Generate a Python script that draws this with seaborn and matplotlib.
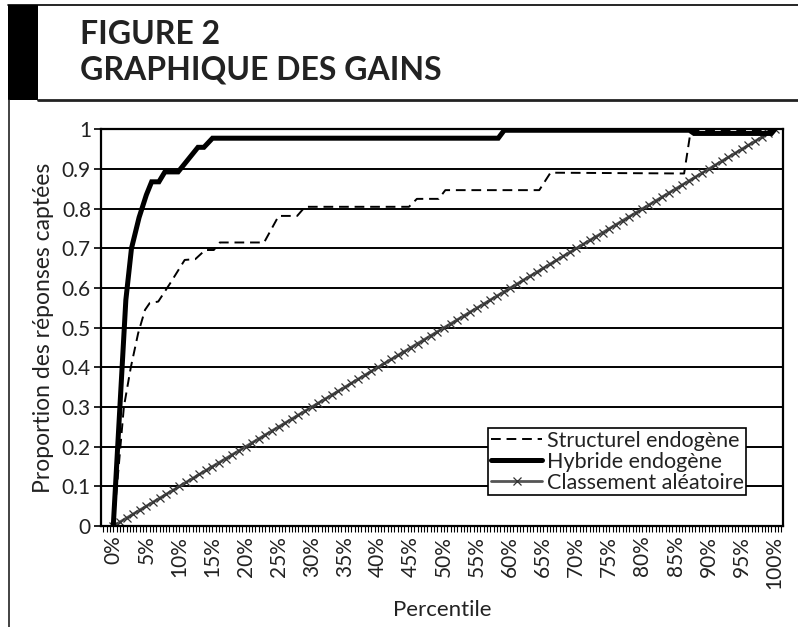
import matplotlib
matplotlib.use("Agg")
import matplotlib.pyplot as plt
import pandas as pd
import seaborn as sns
from matplotlib.lines import Line2D
from matplotlib.patches import Rectangle
from matplotlib.ticker import MultipleLocator

# Data (percentile -> proportion of responses captured)
struct_pct = [0, 0.6, 1.6, 2.65, 3.76, 4.8, 5.5, 6.8, 8.6, 10.8, 12.4, 13.9, 15.2, 16.1,
              22.8, 25.0, 27.8, 29.0, 44.7, 45.9, 49.2, 50.2, 64.4, 66.1, 86.3, 87.3, 100]
struct_val = [0, 0.108, 0.30, 0.40, 0.486, 0.545, 0.562, 0.566, 0.612, 0.671, 0.673, 0.696, 0.696, 0.715,
              0.715, 0.782, 0.782, 0.805, 0.805, 0.825, 0.825, 0.847, 0.847, 0.891, 0.889, 0.997, 0.997]

hybrid_pct = [0, 1.9, 2.75, 3.9, 5.0, 5.8, 6.9, 7.8, 9.8, 12.8, 13.7, 15.0,
              58.2, 59.1, 87.1, 87.8, 99.5, 100]
hybrid_val = [0, 0.57, 0.70, 0.778, 0.835, 0.868, 0.868, 0.893, 0.893, 0.955, 0.955, 0.978,
              0.978, 0.998, 0.998, 0.99, 0.99, 1.0]

random_pct = [0, 1, 2, 3, 4, 5, 6, 7, 8, 9, 10, 11, 12, 13, 14, 15, 16, 17, 18, 19, 20,
              21, 22, 23, 24, 25, 26, 27, 28, 29, 30, 31, 32, 33, 34, 35, 36, 37, 38, 39, 40,
              41, 42, 43, 44, 45, 46, 47, 48, 49, 50, 51, 52, 53, 54, 55, 56, 57, 58, 59, 60,
              61, 62, 63, 64, 65, 66, 67, 68, 69, 70, 71, 72, 73, 74, 75, 76, 77, 78, 79, 80,
              81, 82, 83, 84, 85, 86, 87, 88, 89, 90, 91, 92, 93, 94, 95, 96, 97, 98, 99, 100]
random_val = [0.00, 0.01, 0.02, 0.03, 0.04, 0.05, 0.06, 0.07, 0.08, 0.09, 0.10,
              0.11, 0.12, 0.13, 0.14, 0.15, 0.16, 0.17, 0.18, 0.19, 0.20,
              0.21, 0.22, 0.23, 0.24, 0.25, 0.26, 0.27, 0.28, 0.29, 0.30,
              0.31, 0.32, 0.33, 0.34, 0.35, 0.36, 0.37, 0.38, 0.39, 0.40,
              0.41, 0.42, 0.43, 0.44, 0.45, 0.46, 0.47, 0.48, 0.49, 0.50,
              0.51, 0.52, 0.53, 0.54, 0.55, 0.56, 0.57, 0.58, 0.59, 0.60,
              0.61, 0.62, 0.63, 0.64, 0.65, 0.66, 0.67, 0.68, 0.69, 0.70,
              0.71, 0.72, 0.73, 0.74, 0.75, 0.76, 0.77, 0.78, 0.79, 0.80,
              0.81, 0.82, 0.83, 0.84, 0.85, 0.86, 0.87, 0.88, 0.89, 0.90,
              0.91, 0.92, 0.93, 0.94, 0.95, 0.96, 0.97, 0.98, 0.99, 1.00]

x_ticks = [0, 5, 10, 15, 20, 25, 30, 35, 40, 45, 50, 55, 60, 65, 70, 75, 80, 85, 90, 95, 100]
x_labels = [f"{t}%" for t in x_ticks]
y_ticks = [0, 0.1, 0.2, 0.3, 0.4, 0.5, 0.6, 0.7, 0.8, 0.9, 1.0]
y_labels = ["0", "0.1", "0.2", "0.3", "0.4", "0.5", "0.6", "0.7", "0.8", "0.9", "1"]

df_struct = pd.DataFrame({"pct": struct_pct, "val": struct_val})
df_hybrid = pd.DataFrame({"pct": hybrid_pct, "val": hybrid_val})
df_random = pd.DataFrame({"pct": random_pct, "val": random_val})

sns.set_style("white")
plt.rcParams['font.family'] = ['Lato', 'DejaVu Sans']
txt = '#222222'

fig = plt.figure(figsize=(7.98, 6.27), dpi=100)
ax = fig.add_axes([0.1262, 0.1611, 0.855, 0.6324])

# gridlines
ax.yaxis.grid(True, color='black', lw=1.4, zorder=0)
ax.set_axisbelow(True)

sns.lineplot(data=df_struct, x="pct", y="val", ax=ax, sort=False, estimator=None,
             color='black', lw=1.4, linestyle=(0, (5, 3)), label='Structurel endogène', zorder=4)
sns.lineplot(data=df_hybrid, x="pct", y="val", ax=ax, sort=False, estimator=None,
             color='black', lw=3.6, label='Hybride endogène', zorder=3,
             solid_joinstyle='miter')
sns.lineplot(data=df_random, x="pct", y="val", ax=ax, sort=False, estimator=None,
             color='#555555', lw=2.0, marker='x', markersize=6, markeredgewidth=0.9,
             markeredgecolor='#333333', label='Classement aléatoire', zorder=2)

ax.set_xlim(-1.9, 101.25)
ax.set_ylim(0, 1)
ax.set_xticks(x_ticks)
ax.set_xticklabels(x_labels, rotation=90, fontsize=15, color=txt)
ax.xaxis.set_minor_locator(MultipleLocator(0.5))
ax.set_yticks(y_ticks)
ax.set_yticklabels(y_labels, fontsize=15, color=txt)
ax.tick_params(axis='x', which='both', direction='out', length=4, width=0.8, color='black', bottom=True)
ax.tick_params(axis='y', which='major', direction='out', length=5, width=1.2, color='black', left=True, pad=2)
ax.tick_params(axis='x', which='major', pad=3)

for s in ax.spines.values():
    s.set_color('black')
    s.set_linewidth(1.6)

ax.set_xlabel("Percentile", fontsize=16, color=txt, labelpad=8)
ax.set_ylabel("Proportion des réponses captées", fontsize=16.5, color=txt, labelpad=6)

leg = ax.legend(loc='upper left', bbox_to_anchor=(0.568, 0.247), frameon=True, fancybox=False,
                edgecolor='black', framealpha=1, handlelength=2.4, borderpad=0.12,
                labelspacing=0.05, handletextpad=0.2, borderaxespad=0, fontsize=15.5)
leg.get_frame().set_linewidth(1.2)
for t in leg.get_texts():
    t.set_color(txt)

# header frame
W, H = 798, 627
fig.add_artist(Rectangle((8 / W, 1 - 100 / H), 30 / W, 95 / H, transform=fig.transFigure,
                         color='black', lw=0))
fig.add_artist(Line2D([8 / W, 1], [1 - 5 / H, 1 - 5 / H], transform=fig.transFigure, color='black', lw=1.2))
fig.add_artist(Line2D([38 / W, 1], [1 - 99.5 / H, 1 - 99.5 / H], transform=fig.transFigure, color='#222', lw=2))
fig.add_artist(Line2D([8.5 / W, 8.5 / W], [0, 1 - 100 / H], transform=fig.transFigure, color='#222', lw=1.2))
fig.text(80 / W, 1 - 35 / H, "FIGURE 2", fontsize=23, fontweight='bold', color=txt, va='center')
fig.text(80 / W, 1 - 70 / H, "GRAPHIQUE DES GAINS", fontsize=23, fontweight='bold', color=txt, va='center')

fig.savefig("out.png", dpi=100)
